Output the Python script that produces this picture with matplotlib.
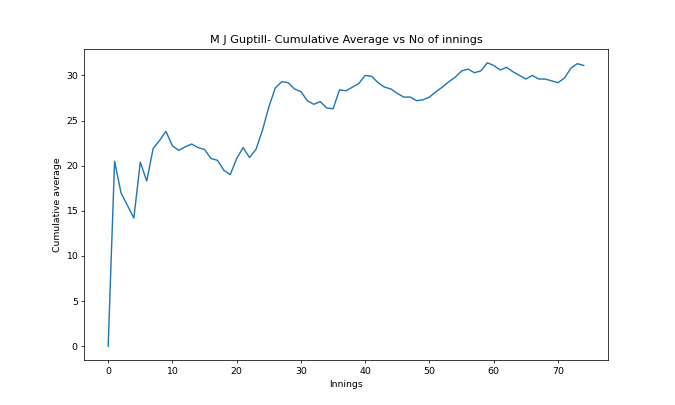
import matplotlib
matplotlib.use('Agg')
import matplotlib.pyplot as plt

# cumulative average after each innings
innings = list(range(75))
cum_avg = [0.0, 20.5, 17.0, 15.6, 14.2, 20.4, 18.3, 21.9, 22.8, 23.8,
           22.2, 21.7, 22.1, 22.4, 22.0, 21.8, 20.8, 20.6, 19.5, 19.0,
           20.8, 22.0, 20.9, 21.8, 23.9, 26.5, 28.6, 29.3, 29.2, 28.5,
           28.2, 27.2, 26.8, 27.1, 26.4, 26.3, 28.4, 28.3, 28.7, 29.1,
           30.0, 29.9, 29.2, 28.7, 28.5, 28.0, 27.6, 27.6, 27.2, 27.3,
           27.6, 28.2, 28.7, 29.3, 29.8, 30.5, 30.7, 30.3, 30.5, 31.4,
           31.1, 30.6, 30.9, 30.4, 30.0, 29.6, 30.0, 29.6, 29.6, 29.4,
           29.2, 29.7, 30.8, 31.3, 31.1]

fig, ax = plt.subplots(figsize=(10, 6), dpi=67.5)
ax.plot(innings, cum_avg)
ax.set_title('M J Guptill- Cumulative Average vs No of innings')
ax.set_xlabel('Innings')
ax.set_ylabel('Cumulative average')

plt.savefig('out.png', dpi=67.5)
